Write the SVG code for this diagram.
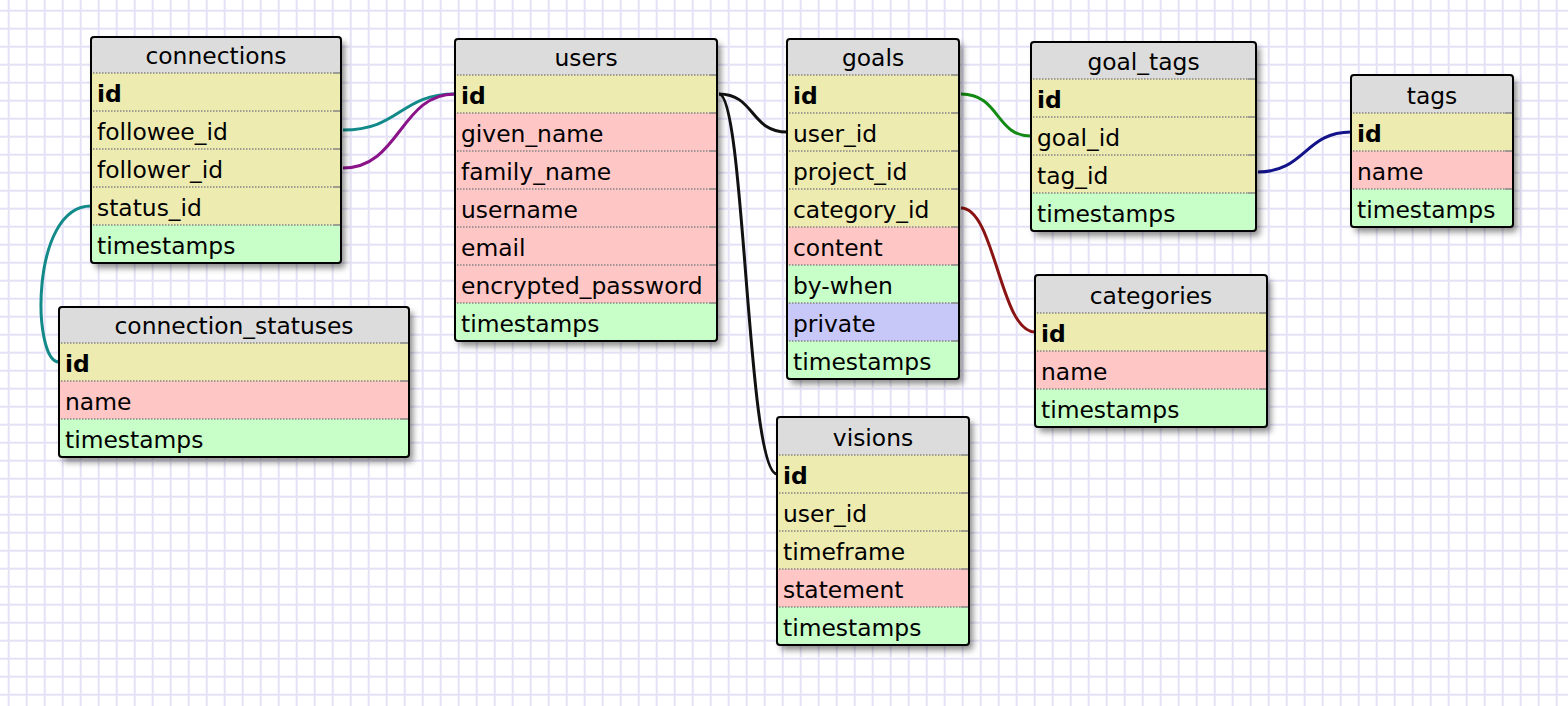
<svg xmlns="http://www.w3.org/2000/svg" width="1568" height="706" viewBox="0 0 1568 706">
<style>
text{font-family:"DejaVu Sans","Liberation Sans",sans-serif;font-size:23.4px;fill:#000}
.h{text-anchor:middle}
.b{font-weight:bold}
.bg{fill:#dcdcdc;filter:url(#sh)}
.fr{fill:none;stroke:#000;stroke-width:2}
.y{fill:#eeebb0}
.p{fill:#ffc6c6}
.g{fill:#c8ffc8}
.v{fill:#c8c8f8}
.sd{fill:none;stroke:#858585;stroke-width:1.6;stroke-dasharray:1.5 1.5}
.ss{fill:none;stroke:#858585;stroke-width:1.6}
.c{fill:none;stroke-width:3}
</style>
<defs>
<pattern id="grid" patternUnits="userSpaceOnUse" width="18" height="18">
<rect width="18" height="18" fill="#fff"/>
<rect x="7.7" y="0" width="2" height="18" fill="#e4e2f6"/>
<rect x="0" y="9.7" width="18" height="2" fill="#e4e2f6"/>
</pattern>
<filter id="sh" x="-10%" y="-10%" width="130%" height="130%">
<feDropShadow dx="4" dy="5" stdDeviation="3" flood-color="#000" flood-opacity="0.45"/>
</filter>
</defs>
<rect width="1568" height="706" fill="url(#grid)"/>

<g id="connectors">
<path class="c" stroke="#138a8a" d="M343,130 C400,130 400,94 455,94"/>
<path class="c" stroke="#8a138a" d="M343,168 C400,168 400,94 455,94"/>
<path class="c" stroke="#138a8a" d="M91,206 C30,206 32,362 59,362"/>
<path class="c" stroke="#111" d="M719,94 C755,94 750,132 787,132"/>
<path class="c" stroke="#111" d="M719,94 C745,94 747,474 777,474"/>
<path class="c" stroke="#138a13" d="M961,94 C1000,94 995,136 1031,136"/>
<path class="c" stroke="#13138a" d="M1258,172 C1305,172 1305,132 1351,132"/>
<path class="c" stroke="#8a1313" d="M961,208 C995,208 1000,332 1035,332"/>
</g>

<g id="connections">
<rect class="bg" x="91" y="37" width="250" height="226" rx="3"/>
<rect class="y" x="91" y="73" width="250" height="152"/>
<rect class="g" x="91" y="225" width="250" height="38"/>
<path class="sd" d="M93,73H333M93,111H333M93,149H333M93,187H333M93,225H333"/>
<path class="ss" d="M333,73H340M333,111H340M333,149H340M333,187H340M333,225H340"/>
<rect class="fr" x="91" y="37" width="250" height="226" rx="3"/>
<text class="h" x="216" y="64">connections</text>
<text class="b" x="97" y="102">id</text>
<text x="97" y="140">followee_id</text>
<text x="97" y="178">follower_id</text>
<text x="97" y="216">status_id</text>
<text x="97" y="254">timestamps</text>
</g>

<g id="users">
<rect class="bg" x="455" y="39" width="262" height="302" rx="3"/>
<rect class="y" x="455" y="75" width="262" height="38"/>
<rect class="p" x="455" y="113" width="262" height="190"/>
<rect class="g" x="455" y="303" width="262" height="38"/>
<path class="sd" d="M457,75H709M457,113H709M457,151H709M457,189H709M457,227H709M457,265H709M457,303H709"/>
<path class="ss" d="M709,75H716M709,113H716M709,151H716M709,189H716M709,227H716M709,265H716M709,303H716"/>
<rect class="fr" x="455" y="39" width="262" height="302" rx="3"/>
<text class="h" x="586" y="66">users</text>
<text class="b" x="461" y="104">id</text>
<text x="461" y="142">given_name</text>
<text x="461" y="180">family_name</text>
<text x="461" y="218">username</text>
<text x="461" y="256">email</text>
<text x="461" y="294">encrypted_password</text>
<text x="461" y="332">timestamps</text>
</g>

<g id="goals">
<rect class="bg" x="787" y="39" width="172" height="340" rx="3"/>
<rect class="y" x="787" y="75" width="172" height="152"/>
<rect class="p" x="787" y="227" width="172" height="38"/>
<rect class="g" x="787" y="265" width="172" height="38"/>
<rect class="v" x="787" y="303" width="172" height="38"/>
<rect class="g" x="787" y="341" width="172" height="38"/>
<path class="sd" d="M789,75H951M789,113H951M789,151H951M789,189H951M789,227H951M789,265H951M789,303H951M789,341H951"/>
<path class="ss" d="M951,75H958M951,113H958M951,151H958M951,189H958M951,227H958M951,265H958M951,303H958M951,341H958"/>
<rect class="fr" x="787" y="39" width="172" height="340" rx="3"/>
<text class="h" x="873" y="66">goals</text>
<text class="b" x="793" y="104">id</text>
<text x="793" y="142">user_id</text>
<text x="793" y="180">project_id</text>
<text x="793" y="218">category_id</text>
<text x="793" y="256">content</text>
<text x="793" y="294">by-when</text>
<text x="793" y="332">private</text>
<text x="793" y="370">timestamps</text>
</g>

<g id="goal_tags">
<rect class="bg" x="1031" y="42" width="225" height="189" rx="3"/>
<rect class="y" x="1031" y="79" width="225" height="114"/>
<rect class="g" x="1031" y="193" width="225" height="38"/>
<path class="sd" d="M1033,79H1248M1033,117H1248M1033,155H1248M1033,193H1248"/>
<path class="ss" d="M1248,79H1255M1248,117H1255M1248,155H1255M1248,193H1255"/>
<rect class="fr" x="1031" y="42" width="225" height="189" rx="3"/>
<text class="h" x="1143.5" y="70">goal_tags</text>
<text class="b" x="1037" y="108">id</text>
<text x="1037" y="146">goal_id</text>
<text x="1037" y="184">tag_id</text>
<text x="1037" y="222">timestamps</text>
</g>

<g id="tags">
<rect class="bg" x="1351" y="75" width="162" height="152" rx="3"/>
<rect class="y" x="1351" y="113" width="162" height="38"/>
<rect class="p" x="1351" y="151" width="162" height="38"/>
<rect class="g" x="1351" y="189" width="162" height="38"/>
<path class="sd" d="M1353,113H1505M1353,151H1505M1353,189H1505"/>
<path class="ss" d="M1505,113H1512M1505,151H1512M1505,189H1512"/>
<rect class="fr" x="1351" y="75" width="162" height="152" rx="3"/>
<text class="h" x="1432" y="104">tags</text>
<text class="b" x="1357" y="142">id</text>
<text x="1357" y="180">name</text>
<text x="1357" y="218">timestamps</text>
</g>

<g id="categories">
<rect class="bg" x="1035" y="275" width="232" height="152" rx="3"/>
<rect class="y" x="1035" y="313" width="232" height="38"/>
<rect class="p" x="1035" y="351" width="232" height="38"/>
<rect class="g" x="1035" y="389" width="232" height="38"/>
<path class="sd" d="M1037,313H1259M1037,351H1259M1037,389H1259"/>
<path class="ss" d="M1259,313H1266M1259,351H1266M1259,389H1266"/>
<rect class="fr" x="1035" y="275" width="232" height="152" rx="3"/>
<text class="h" x="1151" y="304">categories</text>
<text class="b" x="1041" y="342">id</text>
<text x="1041" y="380">name</text>
<text x="1041" y="418">timestamps</text>
</g>

<g id="connection_statuses">
<rect class="bg" x="59" y="307" width="350" height="150" rx="3"/>
<rect class="y" x="59" y="343" width="350" height="38"/>
<rect class="p" x="59" y="381" width="350" height="38"/>
<rect class="g" x="59" y="419" width="350" height="38"/>
<path class="sd" d="M61,343H401M61,381H401M61,419H401"/>
<path class="ss" d="M401,343H408M401,381H408M401,419H408"/>
<rect class="fr" x="59" y="307" width="350" height="150" rx="3"/>
<text class="h" x="234" y="334">connection_statuses</text>
<text class="b" x="65" y="372">id</text>
<text x="65" y="410">name</text>
<text x="65" y="448">timestamps</text>
</g>

<g id="visions">
<rect class="bg" x="777" y="417" width="192" height="228" rx="3"/>
<rect class="y" x="777" y="455" width="192" height="114"/>
<rect class="p" x="777" y="569" width="192" height="38"/>
<rect class="g" x="777" y="607" width="192" height="38"/>
<path class="sd" d="M779,455H961M779,493H961M779,531H961M779,569H961M779,607H961"/>
<path class="ss" d="M961,455H968M961,493H968M961,531H968M961,569H968M961,607H968"/>
<rect class="fr" x="777" y="417" width="192" height="228" rx="3"/>
<text class="h" x="873" y="446">visions</text>
<text class="b" x="783" y="484">id</text>
<text x="783" y="522">user_id</text>
<text x="783" y="560">timeframe</text>
<text x="783" y="598">statement</text>
<text x="783" y="636">timestamps</text>
</g>
</svg>
